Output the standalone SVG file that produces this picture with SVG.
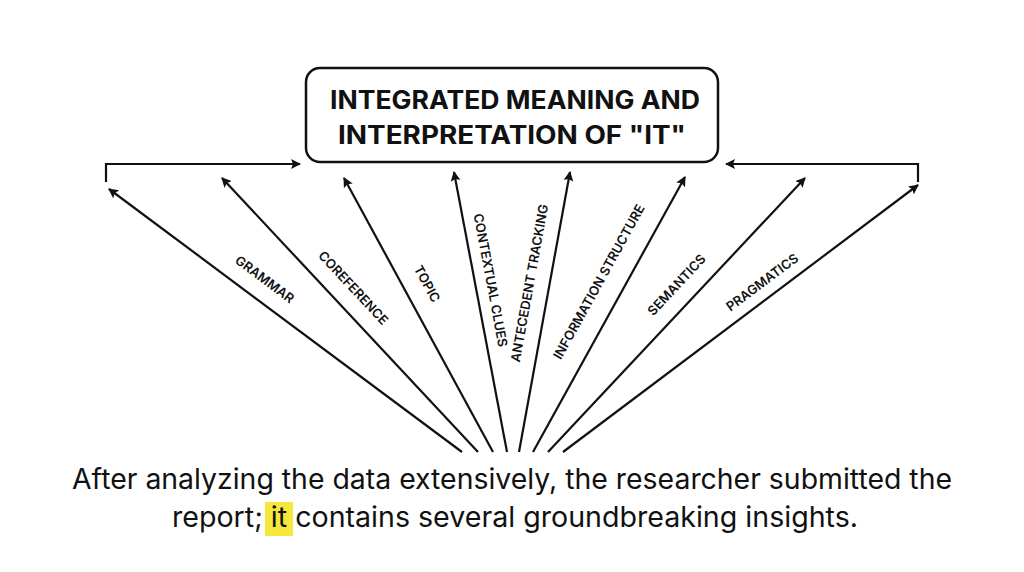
<svg xmlns="http://www.w3.org/2000/svg" width="1024" height="572" viewBox="0 0 1024 572">
<style>
.l{stroke:#111;stroke-width:2.2;fill:none}
.lb{font-family:Inter,"Liberation Sans",sans-serif;font-weight:600;font-size:13px;fill:#111;text-anchor:middle}
.t{font-family:Inter,"Liberation Sans",sans-serif;font-weight:700;font-size:25px;fill:#111}
.s{font-family:Inter,"Liberation Sans",sans-serif;font-size:28px;fill:#111}
</style>
<defs><marker id="a" markerWidth="10" markerHeight="10" refX="9" refY="5" orient="auto" markerUnits="userSpaceOnUse"><path d="M0,0L10,5L0,10L2,5Z" fill="#111"/></marker></defs>
<rect width="1024" height="572" fill="#fff"/>
<g id="box"><rect x="306" y="68" width="412" height="94" rx="14" fill="#fff" stroke="#111" stroke-width="2.5"/>
<text class="t" x="330" y="109" textLength="370" lengthAdjust="spacingAndGlyphs">INTEGRATED MEANING AND</text><text class="t" x="338" y="144" textLength="348" lengthAdjust="spacingAndGlyphs">INTERPRETATION OF "IT"</text></g>
<g id="connectors">
<path class="l" d="M106,182V164H300" marker-end="url(#a)"/>
<path class="l" d="M918,182V164H726" marker-end="url(#a)"/>
<line class="l" x1="462" y1="452" x2="109" y2="189" marker-end="url(#a)"/>
<line class="l" x1="478" y1="452" x2="222" y2="178" marker-end="url(#a)"/>
<line class="l" x1="493" y1="452" x2="344" y2="178" marker-end="url(#a)"/>
<line class="l" x1="507" y1="452" x2="454" y2="172" marker-end="url(#a)"/>
<line class="l" x1="519" y1="452" x2="570" y2="172" marker-end="url(#a)"/>
<line class="l" x1="533" y1="452" x2="685" y2="177" marker-end="url(#a)"/>
<line class="l" x1="548" y1="452" x2="805" y2="178" marker-end="url(#a)"/>
<line class="l" x1="563" y1="452" x2="918" y2="185" marker-end="url(#a)"/>
</g>
<g id="labels">
<text class="lb" transform="translate(262,283) rotate(36.7)">GRAMMAR</text>
<text class="lb" transform="translate(350,291) rotate(46.9)">COREFERENCE</text>
<text class="lb" transform="translate(423,286) rotate(61.5)">TOPIC</text>
<text class="lb" transform="translate(486,281) rotate(79.3)">CONTEXTUAL CLUES</text>
<text class="lb" transform="translate(534,284) rotate(-79.7)">ANTECEDENT TRACKING</text>
<text class="lb" transform="translate(603,284) rotate(-61.1)">INFORMATION STRUCTURE</text>
<text class="lb" transform="translate(680,288) rotate(-46.8)">SEMANTICS</text>
<text class="lb" transform="translate(765,286) rotate(-36.9)">PRAGMATICS</text>
</g>
<g id="sentence">
<rect x="265" y="502" width="28" height="34" fill="#f5e83a"/>
<text class="s" x="72" y="489" textLength="880" lengthAdjust="spacingAndGlyphs">After analyzing the data extensively, the researcher submitted the</text>
<text class="s" x="172" y="527" textLength="686" lengthAdjust="spacingAndGlyphs">report; it contains several groundbreaking insights.</text>
</g>
</svg>
